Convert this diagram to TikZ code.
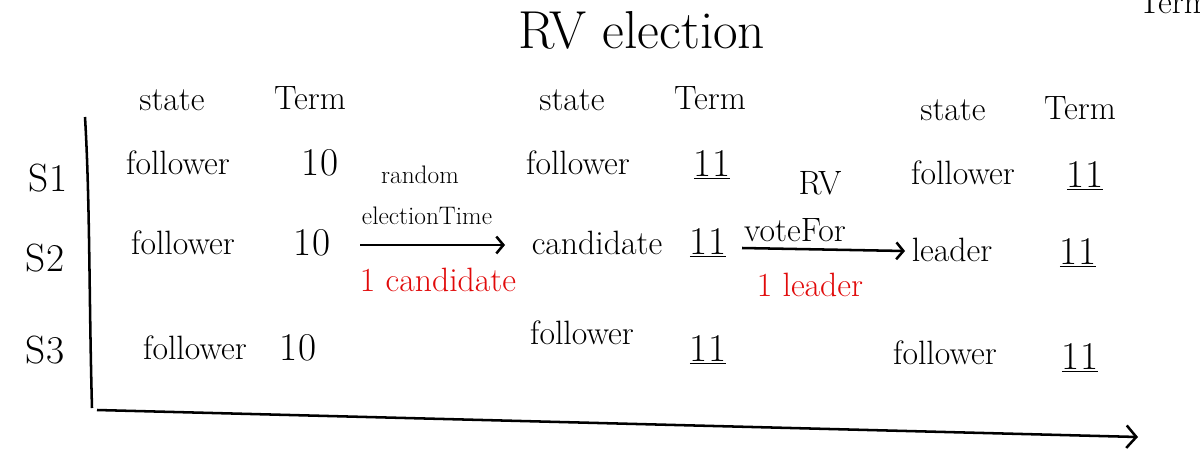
\documentclass[tikz,border=0pt]{standalone}
\usetikzlibrary{arrows.meta}
\definecolor{hred}{HTML}{E10A0A}
\begin{document}
\begin{tikzpicture}[x=0.025cm,y=-0.025cm,
  txt/.style={inner sep=0pt,font=\fontsize{24}{28}\selectfont},
  num/.style={inner sep=0pt,font=\fontsize{28}{32}\selectfont},
  lbl/.style={inner sep=0pt,font=\fontsize{18}{22}\selectfont},
  redlbl/.style={inner sep=0pt,text=hred,font=\fontsize{24}{28}\selectfont},
  conn/.style={line width=1.8pt,-{Straight Barb[length=5pt,width=12pt,line width=1.8pt]}},
  axis/.style={line width=1.8pt}]
\useasboundingbox (0,0) rectangle (1200,467);
% title
\node[inner sep=0pt,font=\fontsize{38}{42}\selectfont] (title) at (642,30) {RV election};
\node[txt,anchor=west] (cut) at (1138,2) {Term};
% headers
\node[txt] (h1s) at (172,100) {state};
\node[txt] (h1t) at (310,98) {Term};
\node[txt] (h2s) at (572,100) {state};
\node[txt] (h2t) at (710,98) {Term};
\node[txt] (h3s) at (953,110) {state};
\node[txt] (h3t) at (1080,108) {Term};
% server labels
\node[num] (s1) at (48,178) {S1};
\node[num] (s2) at (45,258) {S2};
\node[num] (s3) at (45,350) {S3};
% column 1
\node[txt] (a1) at (178,163) {follower};
\node[num] (b1) at (320,163) {10};
\node[txt] (a2) at (183,243) {follower};
\node[num] (b2) at (312,243) {10};
\node[txt] (a3) at (195,348) {follower};
\node[num] (b3) at (298,348) {10};
% column 2
\node[txt] (c1) at (578,163) {follower};
\node[num] (d1) at (712,165) {\underline{11}};
\node[txt] (c2) at (597,243) {candidate};
\node[num] (d2) at (708,243) {\underline{11}};
\node[txt] (c3) at (582,333) {follower};
\node[num] (d3) at (708,350) {\underline{11}};
% column 3
\node[txt] (e1) at (963,173) {follower};
\node[num] (f1) at (1085,176) {\underline{11}};
\node[txt] (e2) at (952,250) {leader};
\node[num] (f2) at (1078,253) {\underline{11}};
\node[txt] (e3) at (945,353) {follower};
\node[num] (f3) at (1080,358) {\underline{11}};
% transition 1
\coordinate (t1s) at (360,245);
\coordinate (t1e) at (505,245);
\draw[conn] (t1s) -- (t1e);
\node[lbl] (r1) at (420,175) {random};
\node[lbl] (r2) at (427,216) {electionTime};
\node[redlbl] (r3) at (438,280) {1 candidate};
% transition 2
\coordinate (t2s) at (742,248);
\coordinate (t2e) at (905,251);
\draw[conn] (t2s) -- (t2e);
\node[txt] (v1) at (820,183) {RV};
\node[txt] (v2) at (795,230) {voteFor};
\node[redlbl] (v3) at (810,285) {1 leader};
% axes
\coordinate (yt) at (85,117);
\coordinate (o) at (92,408);
\coordinate (xo) at (97,410);
\coordinate (xe) at (1138,437);
\draw[axis] (yt) .. controls (90,200) and (89,300) .. (o);
\draw[axis,-{Straight Barb[length=7pt,width=16pt,line width=1.8pt]}] (xo) -- (xe);
\end{tikzpicture}
\end{document}
